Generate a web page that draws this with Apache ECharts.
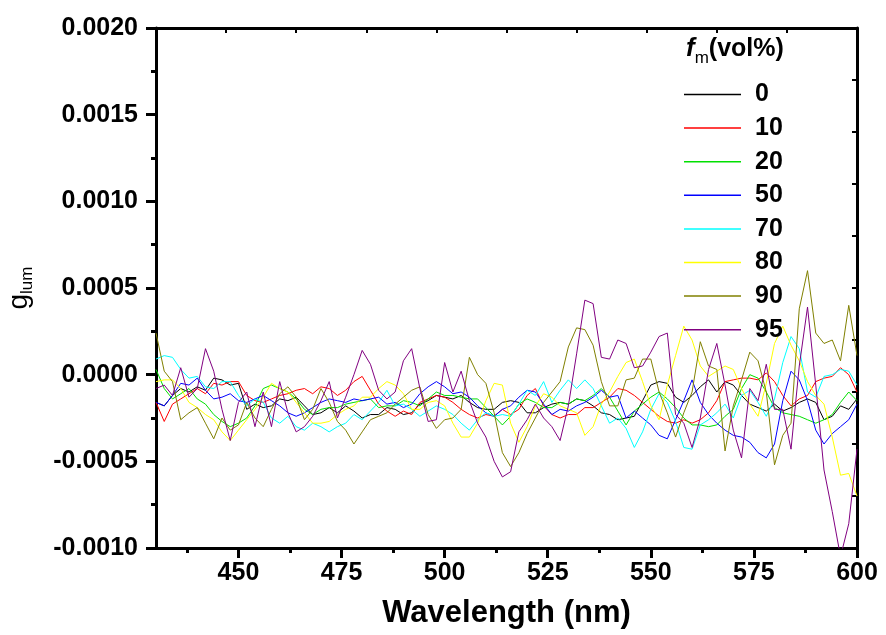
<!DOCTYPE html>
<html>
<head>
<meta charset="utf-8">
<script src="https://cdn.jsdelivr.net/npm/echarts@6/dist/echarts.min.js"></script>
<style>html,body{margin:0;padding:0;background:#fff;}#c{width:886px;height:635px;}</style>
</head>
<body>
<div id="c"></div>
<script>
// Wavelength grid (nm)
const wavelengths = [430,432,434,436,438,440,442,444,446,448,450,452,454,456,458,460,462,464,466,468,470,472,474,476,478,480,482,484,486,488,490,492,494,496,498,500,502,504,506,508,510,512,514,516,518,520,522,524,526,528,530,532,534,536,538,540,542,544,546,548,550,552,554,556,558,560,562,564,566,568,570,572,574,576,578,580,582,584,586,588,590,592,594,596,598,600];
// g_lum values in units of 1e-4
const g0 = [-1.6,-1.8,-1.2,-0.8,-1.0,-0.7,-0.9,-0.2,-0.3,-0.6,-0.5,-2.0,-1.7,-1.9,-1.8,-1.4,-1.5,-1.3,-1.8,-2.3,-2.2,-1.9,-2.2,-1.8,-2.1,-2.5,-2.3,-2.3,-1.9,-2.0,-2.3,-2.2,-1.7,-1.5,-1.2,-1.3,-1.4,-1.2,-1.6,-1.9,-2.0,-2.0,-1.6,-1.5,-1.6,-2.2,-2.2,-1.9,-1.7,-1.6,-1.7,-1.4,-1.5,-1.8,-2.2,-2.3,-2.6,-2.5,-2.4,-1.5,-0.6,-0.4,-0.5,-1.3,-1.6,-1.2,-0.7,-0.3,-1.0,-0.4,-0.6,-1.2,-1.7,-1.9,-2.1,-1.7,-2.1,-1.9,-1.6,-1.4,-1.6,-2.6,-2.4,-1.8,-2.0,-1.4];
const g10 = [-1.6,-2.7,-1.7,-1.4,-1.1,-0.8,-1.1,-0.5,-0.6,-0.4,-0.4,-1.2,-1.5,-1.6,-1.4,-1.2,-1.1,-0.9,-0.8,-1.1,-0.7,-0.8,-1.2,-0.9,-0.4,-0.1,-0.9,-1.7,-2.1,-2.4,-2.1,-2.3,-1.6,-1.4,-1.2,-1.3,-1.6,-2.0,-2.3,-2.5,-2.3,-2.4,-2.0,-2.3,-2.0,-1.2,-0.8,-1.8,-2.3,-2.5,-2.3,-2.3,-1.9,-1.9,-1.6,-1.3,-0.8,-0.9,-1.2,-1.6,-2.0,-2.4,-2.7,-2.8,-2.6,-2.8,-2.6,-2.2,-1.5,-0.4,-0.3,-0.2,-0.2,-0.3,0.1,-0.4,-1.2,-1.8,-1.4,-1.2,-0.4,-0.2,-0.1,0.4,0.0,-1.0];
const g20 = [0.3,-0.8,-1.4,-1.1,-0.8,-1.4,-1.7,-2.3,-2.7,-3.0,-2.8,-2.5,-1.8,-0.8,-0.6,-0.8,-1.0,-1.4,-2.0,-2.3,-2.0,-1.9,-1.9,-1.7,-1.6,-1.5,-1.4,-1.9,-1.8,-1.8,-1.5,-1.6,-1.8,-1.4,-1.0,-1.2,-1.2,-1.3,-1.4,-1.4,-1.9,-2.4,-2.9,-2.4,-1.7,-1.4,-1.6,-1.9,-1.9,-1.6,-1.7,-1.4,-1.5,-1.2,-0.8,-1.3,-2.1,-2.9,-2.1,-1.7,-1.3,-1.0,-1.4,-1.9,-2.5,-2.9,-2.9,-3.0,-2.9,-2.4,-2.0,-0.8,0.0,-0.2,-1.0,-1.9,-2.2,-2.3,-2.4,-2.6,-2.8,-2.6,-2.3,-1.6,-1.0,-1.5];
const g50 = [-1.6,-1.8,-1.2,-0.5,-0.6,-0.2,-0.9,-1.4,-1.3,-1.1,-1.5,-1.6,-1.4,-1.2,-1.5,-1.8,-2.2,-2.4,-2.2,-1.9,-1.6,-1.4,-1.5,-1.6,-1.4,-1.5,-1.4,-1.3,-1.7,-1.6,-1.9,-1.7,-1.1,-0.7,-0.4,-0.7,-1.1,-1.0,-1.3,-1.8,-2.2,-2.4,-2.0,-1.8,-1.3,-0.9,-1.0,-1.7,-2.3,-2.0,-2.1,-1.8,-1.6,-1.3,-0.9,-1.3,-1.2,-2.5,-2.1,-2.5,-2.9,-3.5,-3.7,-2.6,-1.5,-0.3,-1.6,-2.3,-2.8,-3.2,-3.5,-3.6,-3.9,-4.5,-4.8,-4.0,-1.5,0.2,-0.3,-1.5,-3.2,-4.0,-3.4,-3.0,-2.6,-1.7];
const g70 = [0.9,1.1,1.0,0.3,-0.2,-0.1,-0.7,-0.8,-0.4,-0.4,-1.2,-1.8,-1.4,-1.6,-2.5,-2.8,-2.4,-3.0,-3.2,-2.8,-3.0,-3.3,-3.0,-2.8,-2.3,-2.6,-2.1,-1.6,-0.9,-1.8,-1.7,-2.0,-2.4,-2.1,-1.8,-2.0,-2.3,-2.8,-3.2,-2.6,-2.2,-2.4,-2.3,-2.4,-1.7,-0.9,-1.2,-0.4,-1.6,-0.9,-0.3,-0.8,-0.3,-0.8,-1.8,-2.8,-2.5,-3.1,-4.2,-3.3,-2.0,-1.1,-1.6,-2.7,-4.2,-4.3,-2.9,-2.6,-2.2,-1.7,-2.5,-1.2,-0.9,-1.6,-2.4,-1.4,0.7,2.2,1.5,-1.0,-1.3,-0.1,0.0,0.3,0.2,-0.6];
const g80 = [-0.4,-0.3,-0.3,-0.8,-1.6,-1.9,-2.3,-2.6,-3.3,-3.8,-3.2,-2.6,-2.0,-1.3,-0.5,-0.8,-1.0,-1.6,-2.2,-2.8,-2.8,-2.7,-2.3,-2.0,-1.8,-1.3,-1.3,-0.8,-0.4,-0.6,-1.1,-2.0,-2.0,-1.6,-1.5,-1.8,-2.8,-3.6,-3.6,-2.8,-1.5,-0.5,-0.6,-2.8,-3.9,-3.0,-1.8,-1.1,-1.3,-1.8,-2.0,-2.2,-3.5,-3.0,-1.7,-1.0,-0.1,0.7,0.9,-0.4,-1.8,-2.6,-0.6,1.1,2.8,2.0,0.5,-0.1,0.2,0.5,0.3,-0.8,-1.7,-2.4,-0.5,1.8,2.8,1.7,0.8,-0.4,-1.2,-1.7,-3.6,-5.8,-5.7,-7.0];
const g90 = [2.4,0.2,-0.4,-2.6,-2.2,-1.9,-2.8,-3.7,-2.5,-3.2,-2.9,-1.6,-2.5,-3.0,-2.0,-1.1,-0.7,-1.3,-2.6,-2.0,-0.8,-1.6,-2.7,-3.2,-4.0,-3.3,-2.6,-2.4,-2.2,-1.7,-1.3,-0.9,-0.7,-2.3,-3.1,-2.6,-2.5,-2.0,1.0,0.0,-0.5,-2.2,-4.5,-5.3,-4.5,-3.4,-2.5,-1.6,-1.0,-0.4,1.6,2.7,2.6,1.7,-0.4,-1.8,-1.8,-0.3,-0.2,0.9,0.9,-1.0,-2.2,-3.6,-2.2,-1.0,1.9,0.5,0.3,-4.4,-1.8,-0.3,1.3,0.8,-1.0,-5.2,-3.5,-2.8,3.8,6.0,2.4,1.8,2.0,0.8,4.0,1.1];
const g95 = [-0.8,-0.6,-1.2,0.4,-1.3,-0.8,1.5,0.2,-2.0,-3.8,-1.6,-1.0,-3.0,-1.0,-3.0,-0.4,-2.2,-3.3,-3.0,-2.4,-1.5,-0.4,-2.5,-1.3,0.0,1.4,0.6,-0.9,-1.4,-1.0,0.8,1.5,-0.8,-2.7,-2.6,0.7,-1.0,0.2,-1.5,-2.8,-3.6,-5.0,-5.9,-5.6,-3.3,-2.6,-1.7,-2.5,-3.0,-3.8,-1.8,1.2,4.3,4.1,1.0,0.9,2.0,1.8,0.4,0.5,1.3,2.2,2.4,-2.3,-2.8,-4.2,-2.5,0.3,1.8,-0.6,-3.2,-4.8,-0.8,-1.5,0.6,-2.0,-2.0,-4.3,0.5,3.9,-0.6,-5.5,-7.9,-10.5,-8.6,-4.3];

const seriesNames = ['0','10','20','50','70','80','90','95'];
const seriesValues = [g0,g10,g20,g50,g70,g80,g90,g95];
const seriesColors = ['#000000','#ff0000','#00e000','#0000ff','#00ffff','#ffff00','#808000','#800080'];
const xMajorTicks = [450,475,500,525,550,575,600];
const xMinorTicks = [437.5,462.5,487.5,512.5,537.5,562.5,587.5];

const FONT = '"Liberation Sans", Arial, Helvetica, sans-serif';
const chart = echarts.init(document.getElementById('c'), null, {renderer:'canvas'});

const series = seriesNames.map((n,k)=>({
  name:n, type:'line', xAxisIndex:0, yAxisIndex:0,
  data: wavelengths.map((w,i)=>[w, seriesValues[k][i]]),
  symbol:'none', showSymbol:false, clip:true,
  lineStyle:{width:1, color:seriesColors[k]},
  itemStyle:{color:seriesColors[k]},
  emphasis:{disabled:true}
}));

chart.setOption({
  animation:false,
  backgroundColor:'#ffffff',
  grid:{left:156, right:29, top:28, bottom:87, containLabel:false, outerBoundsMode:'none'},
  xAxis:[
    {type:'value', min:430, max:600, position:'bottom',
     axisLine:{show:true, onZero:false, lineStyle:{color:'#000', width:3}},
     axisTick:{show:true, customValues:xMajorTicks, length:10, inside:false, lineStyle:{color:'#000', width:3}},
     axisLabel:{show:true, customValues:xMajorTicks, margin:13, color:'#000', fontSize:25, fontWeight:'bold', fontFamily:FONT},
     splitLine:{show:false},
     name:'Wavelength (nm)', nameLocation:'middle', nameGap:50,
     nameTextStyle:{color:'#000', fontSize:31, fontWeight:'bold', fontFamily:FONT}},
    {type:'value', min:430, max:600, position:'bottom',
     axisLine:{show:false, onZero:false},
     axisTick:{show:true, customValues:xMinorTicks, length:5, inside:false, lineStyle:{color:'#000', width:3}},
     axisLabel:{show:false}, splitLine:{show:false}},
    {type:'value', min:0, max:10, interval:1, position:'top',
     axisLine:{show:true, onZero:false, lineStyle:{color:'#000', width:3}},
     axisTick:{show:true, inside:true, length:5, lineStyle:{color:'#000', width:2}},
     axisLabel:{show:false}, splitLine:{show:false}}
  ],
  yAxis:[
    {type:'value', min:-10, max:20, interval:5, position:'left',
     axisLine:{show:true, onZero:false, lineStyle:{color:'#000', width:3}},
     axisTick:{show:true, length:10, inside:false, lineStyle:{color:'#000', width:3}},
     minorTick:{show:true, splitNumber:2, length:5, lineStyle:{color:'#000', width:3}},
     axisLabel:{show:true, margin:18, color:'#000', fontSize:25, fontWeight:'bold', fontFamily:FONT,
       formatter:v=>(v/10000).toFixed(4)},
     splitLine:{show:false}, minorSplitLine:{show:false},
     name:'{g|g}{s|lum}', nameLocation:'middle', nameRotate:90, nameGap:120,
     nameTextStyle:{color:'#000', fontFamily:FONT,
       rich:{g:{fontSize:28, lineHeight:34, verticalAlign:'middle', fontFamily:FONT, color:'#000'},
             s:{fontSize:17, lineHeight:14, verticalAlign:'bottom', fontFamily:FONT, color:'#000'}}}},
    {type:'value', min:0, max:10, interval:1, position:'right',
     axisLine:{show:true, onZero:false, lineStyle:{color:'#000', width:3}},
     axisTick:{show:true, inside:true, length:5, lineStyle:{color:'#000', width:2}},
     axisLabel:{show:false}, splitLine:{show:false}}
  ],
  legend:{
    orient:'vertical', left:679, top:77, itemWidth:57, itemHeight:1.5, itemGap:8.6,
    icon:'rect', padding:5,
    data:seriesNames, selectedMode:false,
    textStyle:{color:'#000', fontSize:25, fontWeight:'bold', fontFamily:FONT, lineHeight:24, padding:[0,0,0,9]}
  },
  graphic:[
    {type:'text', left:686, top:36, z:100,
     style:{text:'{f|f}{m|m}{v|(vol%)}', fill:'#000',
       rich:{f:{fontSize:26, fontStyle:'italic', fontWeight:'bold', fontFamily:FONT, lineHeight:36, verticalAlign:'middle', fill:'#000'},
             m:{fontSize:17, fontFamily:FONT, lineHeight:14, verticalAlign:'bottom', fill:'#000'},
             v:{fontSize:25, fontWeight:'bold', fontFamily:FONT, lineHeight:36, verticalAlign:'middle', fill:'#000'}}}}
  ],
  series: series
});
</script>
</body>
</html>
